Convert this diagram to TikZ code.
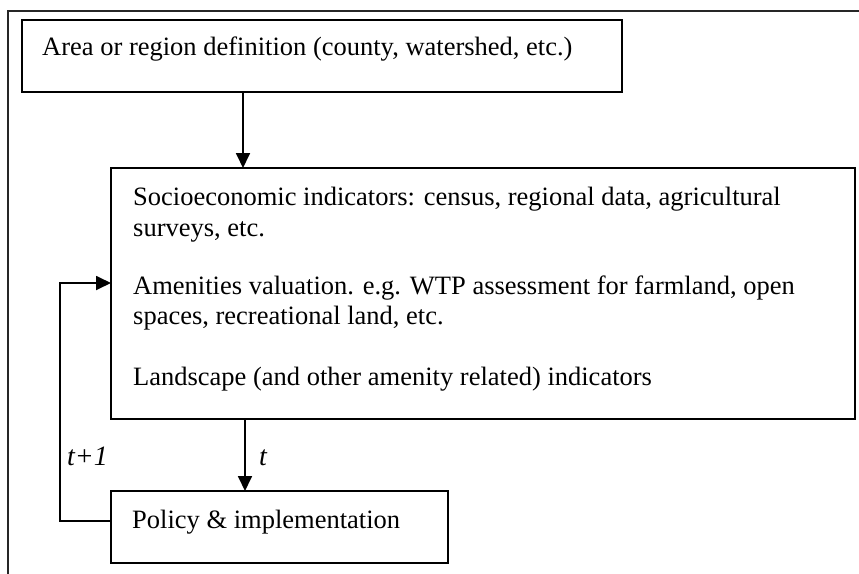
\documentclass[tikz,border=0pt]{standalone}
\usepackage{fontspec}
\setmainfont{Liberation Serif}
\usetikzlibrary{arrows.meta}
\begin{document}
\begin{tikzpicture}[x=1pt,y=-1pt,
  box/.style={draw=black, line width=1.8pt, inner sep=0pt, outer sep=0pt},
  txt/.style={anchor=base west, inner sep=0pt, font=\fontsize{26.5pt}{30pt}\selectfont},
  lbl/.style={anchor=base west, inner sep=0pt, font=\fontsize{28pt}{32pt}\selectfont\itshape},
  arr/.style={line width=1.8pt, -{Triangle[length=15pt,width=14pt]}},
  conn/.style={line width=1.8pt}]
\useasboundingbox (0,0) rectangle (859,573);
% outer frame (continues past the page)
\coordinate (fbl) at (8,580);
\coordinate (ftl) at (8,11);
\coordinate (ftr) at (870,11);
\draw[line width=2pt, draw=black!85] (fbl) -- (ftl) -- (ftr);
% boxes
\node[box, minimum width=600pt, minimum height=72pt] (b1) at (322,56) {};
\node[box, minimum width=744pt, minimum height=251pt] (b2) at (483,293.5) {};
\node[box, minimum width=337pt, minimum height=72pt] (b3) at (279.5,527) {};
% texts
\node[txt] (t1) at (42,55) {Area or region definition (county, watershed, etc.)};
\node[txt] (t2a) at (133,205) {Socioeconomic indicators: census, regional data, agricultural};
\node[txt] (t2b) at (133,236) {surveys, etc.};
\node[txt] (t2c) at (133,294) {Amenities valuation. e.g. WTP assessment for farmland, open};
\node[txt] (t2d) at (133,324) {spaces, recreational land, etc.};
\node[txt] (t2e) at (133,385) {Landscape (and other amenity related) indicators};
\node[txt] (t3) at (132,528) {Policy \& implementation};
% labels
\node[lbl] (lt1) at (67,465) {t+1};
\node[lbl] (lt) at (259,465) {t};
% connectors
\draw[arr] ([xshift=221pt]b1.south west) -- ([xshift=221pt]b1.south west |- b2.north);
\draw[arr] ([xshift=134pt]b2.south west) -- ([xshift=134pt]b2.south west |- b3.north);
\draw[arr] ([yshift=6pt]b3.west) -- ++(-51,0) |- ([yshift=-115pt]b2.north west);
\end{tikzpicture}
\end{document}
